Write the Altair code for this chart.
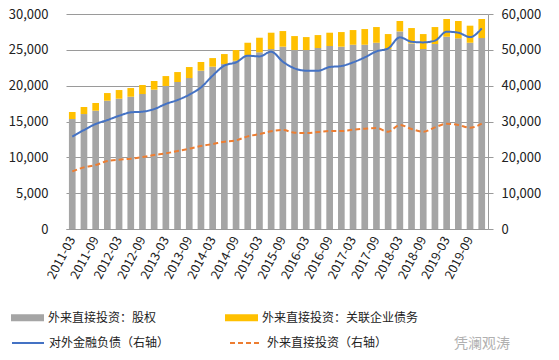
import altair as alt
import pandas as pd

quarters = [
    "2011-03", "2011-06", "2011-09", "2011-12",
    "2012-03", "2012-06", "2012-09", "2012-12",
    "2013-03", "2013-06", "2013-09", "2013-12",
    "2014-03", "2014-06", "2014-09", "2014-12",
    "2015-03", "2015-06", "2015-09", "2015-12",
    "2016-03", "2016-06", "2016-09", "2016-12",
    "2017-03", "2017-06", "2017-09", "2017-12",
    "2018-03", "2018-06", "2018-09", "2018-12",
    "2019-03", "2019-06", "2019-09", "2019-12",
]
tick_labels = [
    "2011-03", "2011-09", "2012-03", "2012-09", "2013-03", "2013-09",
    "2014-03", "2014-09", "2015-03", "2015-09", "2016-03", "2016-09",
    "2017-03", "2017-09", "2018-03", "2018-09", "2019-03", "2019-09",
]

# left axis (bars)
equity = [
    15345, 16040, 16510, 17900, 18180, 18460, 18830, 19440, 19950, 20510,
    21060, 22090, 22650, 23020, 23480, 24270, 24650, 25110, 25440, 24970,
    24970, 25250, 25530, 25440, 25710, 25710, 25990, 25110, 27570, 25900,
    25110, 25810, 26830, 26600, 25990, 26640,
]
debt = [
    977, 980, 1070, 1070, 1210, 1210, 1260, 1210, 1390, 1390,
    1540, 1210, 1200, 1390, 1490, 1720, 2040, 2280, 2180, 1950,
    1810, 1810, 1860, 2040, 2050, 2190, 2190, 2090, 1450, 2140,
    2090, 2370, 2470, 2420, 2380, 2660,
]
# right axis (lines)
liabilities = [
    25760, 27620, 29300, 30400, 31600, 32550, 32740, 33480, 34900, 36000,
    37480, 39500, 42800, 45600, 46500, 48360, 48170, 49480, 46700, 44830,
    44180, 44180, 45200, 45480, 46500, 47900, 49570, 50400, 53480, 52270,
    52080, 52550, 55060, 54780, 53570, 55990,
]
fdi = [
    16090, 17200, 17860, 18970, 19340, 19620, 20090, 20650, 21110, 21760,
    22410, 23160, 23720, 24370, 24740, 25850, 26500, 27250, 27620, 26880,
    26780, 27060, 27340, 27340, 27710, 27990, 28180, 27160, 29020, 27900,
    27160, 28370, 29390, 29020, 28270, 29390,
]

left_ticks = [0, 5000, 10000, 15000, 20000, 25000, 30000]
right_ticks = [0, 10000, 20000, 30000, 40000, 50000, 60000]

SER_EQ = "外来直接投资：股权"
SER_DEBT = "外来直接投资：关联企业债务"
SER_LIAB = "对外金融负债（右轴）"
SER_FDI = "外来直接投资（右轴）"
WATERMARK = "凭澜观涛"

n = len(quarters)
bars_df = pd.DataFrame({
    "q": quarters * 2,
    "series": [SER_EQ] * n + [SER_DEBT] * n,
    "value": equity + debt,
    "ord": [0] * n + [1] * n,
})
lines_df = pd.DataFrame({
    "q": quarters * 2,
    "series": [SER_LIAB] * n + [SER_FDI] * n,
    "value": liabilities + fdi,
})

FONT = "Noto Sans CJK SC"
TXT = "#222222"
GRID = "#9a9a9a"

x_enc = alt.X(
    "q:N", sort=quarters,
    scale=alt.Scale(paddingInner=0.43, paddingOuter=0.25),
    axis=alt.Axis(values=tick_labels, labelAngle=-62, title=None, ticks=False,
                  domainColor=GRID, labelFontSize=12.5, labelColor=TXT,
                  labelPadding=8, grid=False),
)

bar_legend = alt.Legend(
    orient="none", legendX=-55, legendY=287, direction="horizontal", title=None,
    symbolType="M-1,-0.21H1V0.21H-1Z", symbolSize=1089, symbolStrokeWidth=0,
    labelFontSize=12, labelOffset=4, columnPadding=68, labelColor=TXT, labelLimit=300,
)
line_legend = alt.Legend(
    orient="none", legendX=-55, legendY=312, direction="horizontal", title=None,
    symbolType="stroke", symbolSize=1024, symbolStrokeWidth=2,
    labelFontSize=12, labelOffset=4, columnPadding=56, labelColor=TXT, labelLimit=300,
)

bars = alt.Chart(bars_df).mark_bar().encode(
    x=x_enc,
    y=alt.Y("value:Q", stack="zero",
            scale=alt.Scale(domain=[0, 30000], nice=False),
            axis=alt.Axis(values=left_ticks, format=",d", title=None, domain=False,
                          ticks=False, tickSize=0, labelPadding=18, grid=True,
                          gridColor=GRID, labelFontSize=13, labelColor=TXT)),
    color=alt.Color("series:N",
                    scale=alt.Scale(domain=[SER_EQ, SER_DEBT], range=["#A5A5A5", "#FFC000"]),
                    legend=bar_legend),
    order=alt.Order("ord:Q", sort="ascending"),
)

lines = alt.Chart(lines_df).mark_line(strokeWidth=2, interpolate="monotone").encode(
    x=x_enc,
    y=alt.Y("value:Q",
            scale=alt.Scale(domain=[0, 60000], nice=False),
            axis=alt.Axis(orient="right", values=right_ticks, format=",d", title=None,
                          domain=True, domainColor=GRID, ticks=True, tickColor=GRID,
                          tickSize=5, labelPadding=8, grid=False, labelFontSize=13,
                          labelColor=TXT)),
    color=alt.Color("series:N",
                    scale=alt.Scale(domain=[SER_LIAB, SER_FDI], range=["#4472C4", "#ED7D31"]),
                    legend=line_legend),
    strokeDash=alt.StrokeDash("series:N",
                              scale=alt.Scale(domain=[SER_LIAB, SER_FDI], range=[[1, 0], [5, 3]]),
                              legend=line_legend),
)

mark = alt.Chart(pd.DataFrame({"t": [WATERMARK]})).mark_text(
    fontSize=14, color="#b0b0b0", align="center", baseline="middle"
).encode(text="t:N", x=alt.value(416), y=alt.value(330))

chart = alt.layer(bars, lines, mark).resolve_scale(
    y="independent", color="independent", strokeDash="independent"
).properties(
    width=422, height=215, padding=0,
).configure(font=FONT).configure_view(stroke=None)

chart.save("out.html", embed_options={"renderer": "svg", "actions": False})
